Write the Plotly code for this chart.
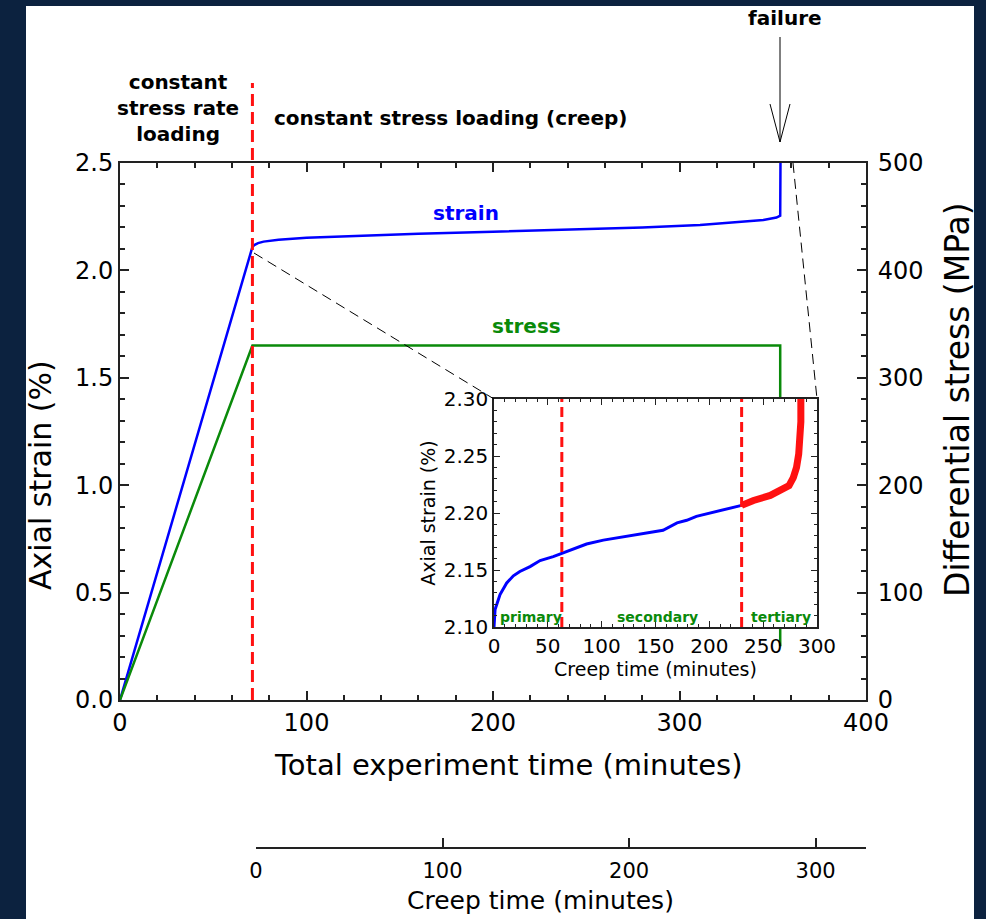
import plotly.graph_objects as go

# ---------------- data ----------------
# main plot: total experiment time (min) vs axial strain (%)
total_time = [0, 71, 72, 74, 77, 85, 100, 130, 160, 200, 250, 280, 311, 332, 345, 352, 354, 354.2]
strain_total = [0.0, 2.109, 2.118, 2.127, 2.134, 2.143, 2.152, 2.163, 2.171, 2.180, 2.192, 2.200, 2.211, 2.224,
                2.235, 2.246, 2.255, 2.60]

# main plot: differential stress (MPa)
stress_time = [0, 71, 354, 354]
stress_mpa = [0, 330, 330, 50]

# inset: creep time (min) vs axial strain (%), primary+secondary
creep_time = [0, 1, 5.6, 11.8, 18, 24, 33.5, 42.8, 55, 63, 74, 86, 101.6, 117, 132.6, 148, 157, 170, 179, 188,
              204, 219, 230]
creep_strain = [2.100, 2.1154, 2.1284, 2.1386, 2.1449, 2.1487, 2.1530, 2.1583, 2.1617, 2.1646, 2.1690, 2.1728,
                2.1762, 2.1786, 2.1814, 2.1835, 2.1849, 2.1913, 2.1936, 2.1971, 2.2009, 2.2043, 2.2067]
# inset: tertiary creep
tert_time = [230, 241, 256.6, 269, 274, 278, 281, 283, 284.5, 285, 285]
tert_strain = [2.2067, 2.211, 2.2154, 2.221, 2.224, 2.231, 2.240, 2.2516, 2.265, 2.28, 2.31]

phase_bounds = [63, 230]          # creep minutes
loading_end = 71                  # total minutes
phase_names = ["primary", "secondary", "tertiary"]
phase_label_x = [34, 152, 267]

# ---------------- geometry helpers ----------------
W, H = 986, 919
L, R, T, B = 120, 120, 163, 72
PW, PH = W - L - R, H - T - B


def px(x):
    return (x - L) / PW


def py(y):
    return (H - B - y) / PH


NAVY = "#0c223f"
BLUE = "#0000ff"
GREEN = "#0a8a0a"
RED = "#ff1111"
FONT = "DejaVu Sans"

fig = go.Figure()

fig.add_trace(go.Scatter(x=total_time, y=strain_total, mode="lines",
                         line=dict(color=BLUE, width=2.5), xaxis="x", yaxis="y", showlegend=False))
fig.add_trace(go.Scatter(x=stress_time, y=stress_mpa, mode="lines",
                         line=dict(color=GREEN, width=2.5), xaxis="x", yaxis="y2", showlegend=False))
fig.add_trace(go.Scatter(x=creep_time, y=creep_strain, mode="lines",
                         line=dict(color=BLUE, width=3), xaxis="x2", yaxis="y3", showlegend=False))
fig.add_trace(go.Scatter(x=tert_time, y=tert_strain, mode="lines",
                         line=dict(color=RED, width=7), xaxis="x2", yaxis="y3", showlegend=False))
fig.add_trace(go.Scatter(x=[None], y=[None], mode="lines", xaxis="x3", yaxis="y4", showlegend=False))

axcol = "#222222"
main_tick = dict(ticks="inside", ticklen=9, tickwidth=1.5, tickcolor=axcol, showline=True,
                 linecolor=axcol, linewidth=2, showgrid=False, zeroline=False,
                 tickfont=dict(family=FONT, size=24, color="black"))

fig.update_layout(
    width=W, height=H,
    margin=dict(l=L, r=R, t=T, b=B),
    paper_bgcolor=NAVY, plot_bgcolor="white",
    font=dict(family=FONT, color="black"),
    xaxis=dict(domain=[0, 1], range=[0, 400], anchor="y", dtick=100, mirror="ticks",
               minor=dict(dtick=20, ticks="inside", ticklen=5, tickcolor=axcol),
               automargin=False, **main_tick),
    yaxis=dict(domain=[py(700), 1], range=[0, 2.5], anchor="x", dtick=0.5, tickformat=".1f",
               minor=dict(dtick=0.1, ticks="inside", ticklen=5, tickcolor=axcol),
               automargin=False, **main_tick),
    yaxis2=dict(range=[0, 500], overlaying="y", side="right", anchor="x", dtick=100,
                minor=dict(dtick=20, ticks="inside", ticklen=5, tickcolor=axcol),
                ticklabelstandoff=5, automargin=False, **main_tick),
    xaxis2=dict(domain=[px(494), px(817)], range=[0, 300], anchor="y3", dtick=50, mirror="ticks",
                ticks="inside", ticklen=6, tickwidth=1.2, tickcolor=axcol, showline=True,
                linecolor=axcol, linewidth=1.5, showgrid=False, zeroline=False,
                minor=dict(dtick=10, ticks="inside", ticklen=3, tickcolor=axcol),
                tickfont=dict(size=20), title=dict(text="Creep time (minutes)", font=dict(size=19), standoff=1),
                automargin=False),
    yaxis3=dict(domain=[py(627), py(399)], range=[2.10, 2.30], anchor="x2", dtick=0.05, tickformat=".2f",
                mirror="ticks", ticks="inside", ticklen=6, tickwidth=1.2, tickcolor=axcol, showline=True,
                linecolor=axcol, linewidth=1.5, showgrid=False, zeroline=False,
                minor=dict(dtick=0.01, ticks="inside", ticklen=3, tickcolor=axcol),
                tickfont=dict(size=20), title=dict(text="Axial strain (%)", font=dict(size=19), standoff=3),
                automargin=False),
    xaxis3=dict(domain=[px(256), 1], range=[0, 327], anchor="y4",
                tickvals=[0, 100, 200, 300, 327], ticktext=["0", "100", "200", "300", ""],
                ticks="inside", ticklen=9, tickwidth=1.5, tickcolor=axcol, showline=True,
                linecolor=axcol, linewidth=1.5, showgrid=False, zeroline=False,
                tickfont=dict(size=21), ticklabelstandoff=4, automargin=False),
    yaxis4=dict(domain=[0, 0.02], range=[0, 1], anchor="x3", visible=False),
)

shapes = []
# white page
shapes.append(dict(type="rect", xref="paper", yref="paper", x0=px(26), x1=px(974), y0=py(930), y1=py(6),
                   fillcolor="white", line=dict(width=0), layer="below"))
# loading / creep boundary
shapes.append(dict(type="line", xref="x", yref="paper", x0=loading_end, x1=loading_end, y0=py(700), y1=py(83),
                   line=dict(color=RED, width=3, dash="12px,6px")))
# inset phase boundaries
for b in phase_bounds:
    shapes.append(dict(type="line", xref="x2", yref="y3", x0=b, x1=b, y0=2.10, y1=2.30,
                       line=dict(color=RED, width=3, dash="10px,5px")))
# zoom connector lines
for (a, b_, c, d) in [(254, 253, 494, 399), (793, 163, 817, 399)]:
    shapes.append(dict(type="line", xref="paper", yref="paper", x0=px(a), y0=py(b_), x1=px(c), y1=py(d),
                       line=dict(color="black", width=1, dash="10px,6px")))
# failure arrow (open head)
shapes.append(dict(type="line", xref="paper", yref="paper", x0=px(780), y0=py(37), x1=px(780), y1=py(142),
                   line=dict(color="black", width=1)))
shapes.append(dict(type="path", xref="paper", yref="paper",
                   path=f"M {px(770)},{py(104)} L {px(780)},{py(142)} L {px(790)},{py(104)}",
                   line=dict(color="black", width=1)))
fig.update_layout(shapes=shapes)

ann = []
bold = dict(family=FONT, size=20, color="black")


def pa(x, y, text, font, **kw):
    d = dict(xref="paper", yref="paper", x=px(x), y=py(y), text=text, showarrow=False, font=font,
             xanchor="center", yanchor="middle")
    d.update(kw)
    ann.append(d)


pa(785, 18, "<b>failure</b>", bold)
pa(178, 108, "<b>constant<br>stress rate<br>loading</b>", bold, align="center")
pa(272, 118, "<b>constant stress loading (creep)</b>", bold, xanchor="left")
# axis titles
pa(508, 765, "Total experiment time (minutes)", dict(family=FONT, size=29, color="black"))
pa(40, 475, "Axial strain (%)", dict(family=FONT, size=30, color="black"), textangle=-90)
pa(957, 400, "Differential stress (MPa)", dict(family=FONT, size=33, color="black"), textangle=-90)
pa(540, 900, "Creep time (minutes)", dict(family=FONT, size=25, color="black"))

ann.append(dict(xref="x", yref="y", x=185.5, y=2.267, text="<b>strain</b>", showarrow=False,
                font=dict(family=FONT, size=20, color=BLUE)))
ann.append(dict(xref="x", yref="y", x=217.7, y=1.741, text="<b>stress</b>", showarrow=False,
                font=dict(family=FONT, size=20, color=GREEN)))
for name, xv in zip(phase_names, phase_label_x):
    ann.append(dict(xref="x2", yref="y3", x=xv, y=2.109, text=f"<b>{name}</b>", showarrow=False,
                    font=dict(family=FONT, size=14, color=GREEN)))
fig.update_layout(annotations=ann)

fig.write_html("out.html")
